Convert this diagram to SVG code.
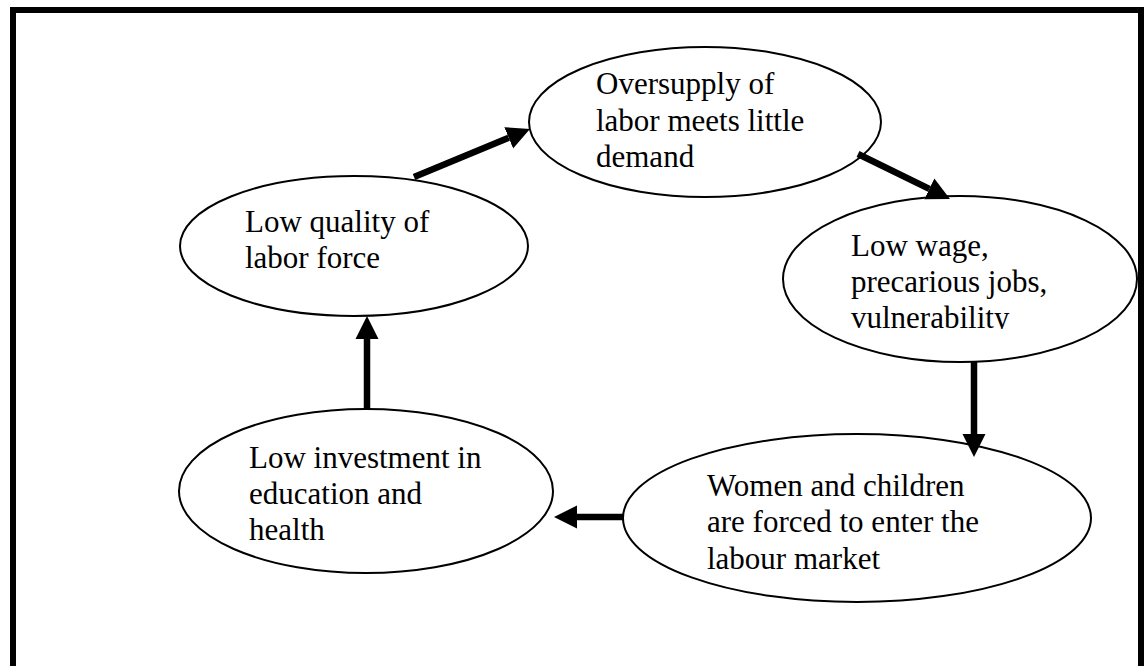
<svg xmlns="http://www.w3.org/2000/svg" width="1147" height="666" viewBox="0 0 1147 666">
  <style>
    .node ellipse { fill: #ffffff; stroke: #000000; stroke-width: 2; }
    .node text { font-family: "Liberation Serif", "Times New Roman", serif; font-size: 31px; fill: #000000; }
    .conn line { stroke: #000000; stroke-width: 6.5; stroke-linecap: butt; marker-end: url(#ah); }
  </style>
  <defs>
    <marker id="ah" markerUnits="userSpaceOnUse" markerWidth="24" markerHeight="24" viewBox="0 -12 24 24" refX="0" refY="0" orient="auto">
      <path d="M0,-11.5 L23,0 L0,11.5 z" fill="#000000"/>
    </marker>
    <clipPath id="clipWage">
      <rect x="780" y="196" width="360" height="133"/>
    </clipPath>
  </defs>
  <rect x="0" y="0" width="1147" height="666" fill="#ffffff"/>
  <rect x="13" y="10" width="1128" height="700" fill="none" stroke="#000000" stroke-width="6"/>

  <g id="node-oversupply" class="node">
    <ellipse cx="705" cy="122" rx="176" ry="75"/>
    <text x="596" y="94">Oversupply of</text>
    <text x="596" y="131">labor meets little</text>
    <text x="596" y="167">demand</text>
  </g>

  <g id="node-lowwage" class="node">
    <ellipse cx="960" cy="279" rx="177" ry="83"/>
    <g clip-path="url(#clipWage)">
      <text x="851" y="256">Low wage,</text>
      <text x="851" y="292">precarious jobs,</text>
      <text x="851" y="328">vulnerability</text>
    </g>
  </g>

  <g id="node-women" class="node">
    <ellipse cx="857" cy="518" rx="234" ry="84"/>
    <text x="707" y="496">Women and children</text>
    <text x="707" y="532">are forced to enter the</text>
    <text x="707" y="569">labour market</text>
  </g>

  <g id="node-investment" class="node">
    <ellipse cx="366" cy="491" rx="187" ry="82"/>
    <text x="249" y="468">Low investment in</text>
    <text x="249" y="504">education and</text>
    <text x="249" y="540">health</text>
  </g>

  <g id="node-quality" class="node">
    <ellipse cx="354" cy="246" rx="174" ry="70"/>
    <text x="245" y="232">Low quality of</text>
    <text x="245" y="268">labor force</text>
  </g>

  <g id="connectors" class="conn">
    <line x1="414" y1="177" x2="508.7" y2="137.8"/>
    <line x1="858" y1="154" x2="929.3" y2="188.9"/>
    <line x1="974" y1="362" x2="974" y2="434"/>
    <line x1="623" y1="517" x2="577" y2="517"/>
    <line x1="367" y1="410" x2="367" y2="339"/>
  </g>
</svg>
